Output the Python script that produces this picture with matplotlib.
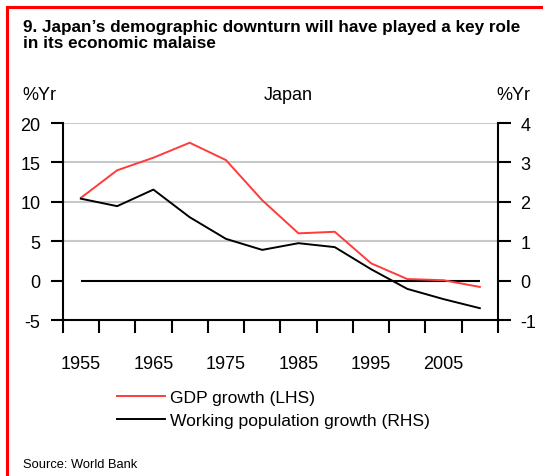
import matplotlib
matplotlib.use("Agg")
import matplotlib.pyplot as plt
from matplotlib.lines import Line2D

plt.rcParams["font.family"] = ["Liberation Sans", "DejaVu Sans"]
plt.rcParams["axes.unicode_minus"] = False

# Japan: GDP growth vs working population growth, 5-year periods
years = [1955, 1960, 1965, 1970, 1975, 1980, 1985, 1990, 1995, 2000, 2005, 2010]
gdp_growth = [10.5, 14.0, 15.6, 17.5, 15.3, 10.2, 6.0, 6.2, 2.2, 0.2, 0.05, -0.8]
workpop_growth = [2.08, 1.89, 2.31, 1.61, 1.06, 0.78, 0.95, 0.85, 0.29, -0.21, -0.47, -0.70]
year_labels = ["1955", "1965", "1975", "1985", "1995", "2005"]
lhs_ticks = [-5, 0, 5, 10, 15, 20]
rhs_ticks = [-1, 0, 1, 2, 3, 4]

RED = "#ff3b3b"
GRID = "#c8c8c8"

fig = plt.figure(figsize=(5.43, 4.77), dpi=100)
ax = fig.add_axes([0.1155, 0.327, 0.8016, 0.413])
ax2 = ax.twinx()

# gridlines and zero line
for v in lhs_ticks[2:]:
    ax.axhline(v, color=GRID, lw=1.5, zorder=0)
ax.hlines(0, years[0], years[-1], color="black", lw=1.5, zorder=1)

ax.plot(years, gdp_growth, color=RED, lw=1.4, zorder=2)
ax2.plot(years, workpop_growth, color="black", lw=1.4)

ax.set_xlim(years[0] - 2.5, years[-1] + 2.5)
ax.set_ylim(-5, 20)
ax2.set_ylim(-1, 4)

# period boundaries as tick marks, labels centred between them
ax.set_xticks([y - 2.5 for y in years] + [years[-1] + 2.5])
ax.set_xticklabels([])
ax.set_xticks([int(s) for s in year_labels], minor=True)
ax.set_xticklabels(year_labels, minor=True)
ax.tick_params(axis="x", which="minor", length=0, pad=25, labelsize=13)
ax.tick_params(axis="x", which="major", length=9, width=1.5, direction="out")

ax.set_yticks(lhs_ticks)
ax.tick_params(axis="y", length=9, width=1.5, pad=7, labelsize=13)
ax2.set_yticks(rhs_ticks)
ax2.tick_params(axis="y", length=9, width=1.5, pad=7, labelsize=13)

for a in (ax, ax2):
    a.spines["top"].set_visible(False)
    for s in ("left", "right", "bottom"):
        a.spines[s].set_linewidth(1.5)
ax.spines["right"].set_visible(False)
ax2.spines["left"].set_visible(False)
ax2.spines["bottom"].set_visible(False)

# title and axis captions
fig.text(0.042, 0.958, "9. Japan\u2019s demographic downturn will have played a key role\nin its economic malaise",
         fontsize=12.3, fontweight="bold", va="top", ha="left", linespacing=1.1)
fig.text(0.042, 0.80, "%Yr", fontsize=13, va="center", ha="left")
fig.text(0.530, 0.80, "Japan", fontsize=13, va="center", ha="center")
fig.text(0.915, 0.80, "%Yr", fontsize=13, va="center", ha="left")

handles = [Line2D([], [], color=RED, lw=1.4), Line2D([], [], color="black", lw=1.4)]
fig.legend(handles, ["GDP growth (LHS)", "Working population growth (RHS)"],
           loc="upper left", bbox_to_anchor=(0.2155, 0.180), frameon=False,
           fontsize=12.6, handlelength=2.75, handletextpad=0.3, labelspacing=0.42,
           borderaxespad=0, borderpad=0)

fig.text(0.042, 0.012, "Source: World Bank", fontsize=9.3, va="bottom", ha="left")

# red frame lines on top and left edge
fig.add_artist(Line2D([0.013, 1.0], [0.983, 0.983], color="#ff0000", lw=2.2))
fig.add_artist(Line2D([0.013, 0.013], [0.0, 0.983], color="#ff0000", lw=2.2))

fig.savefig("out.png", dpi=100)
